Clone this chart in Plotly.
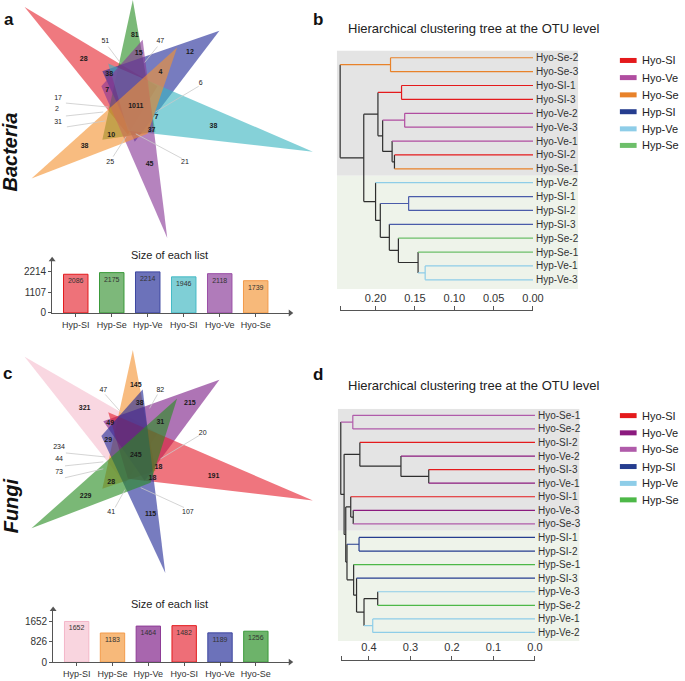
import plotly.graph_objects as go

FONT = "Liberation Sans, Arial, Helvetica, sans-serif"
W, H = 685, 681

# ------------------------------------------------------------------ data
SETS = ["Hyp-SI", "Hyp-Se", "Hyp-Ve", "Hyo-SI", "Hyo-Ve", "Hyo-Se"]
BACT_SIZES = [2086, 2175, 2214, 1946, 2118, 1739]
FUNGI_SIZES = [1652, 1183, 1464, 1482, 1189, 1256]
BACT_YTICKS = [0, 1107, 2214]
FUNGI_YTICKS = [0, 826, 1652]

BACT_REGION_COUNTS = [28, 81, 15, 12, 38, 4, 7, 1011, 7, 38, 37, 10, 38, 45]
BACT_CALLOUT_COUNTS = [51, 47, 6, 17, 2, 31, 25, 21]
FUNGI_REGION_COUNTS = [321, 145, 38, 215, 49, 31, 29, 245, 18, 191, 18, 28, 229, 115]
FUNGI_CALLOUT_COUNTS = [47, 82, 20, 234, 44, 73, 41, 107]

LEGEND_GROUPS = ["Hyo-SI", "Hyo-Ve", "Hyo-Se", "Hyp-SI", "Hyp-Ve", "Hyp-Se"]

TREE_B_LEAVES = ["Hyo-Se-2", "Hyo-Se-3", "Hyo-SI-1", "Hyo-SI-3", "Hyo-Ve-2", "Hyo-Ve-3",
                 "Hyo-Ve-1", "Hyo-SI-2", "Hyo-Se-1", "Hyp-Ve-2", "Hyp-SI-1", "Hyp-SI-2",
                 "Hyp-SI-3", "Hyp-Se-2", "Hyp-Se-1", "Hyp-Ve-1", "Hyp-Ve-3"]
# (node, child1, child2, height)
TREE_B_MERGES = [
    ("A", "Hyo-Se-2", "Hyo-Se-3", 0.181),
    ("PSI", "Hyo-SI-1", "Hyo-SI-3", 0.167),
    ("PVe", "Hyo-Ve-2", "Hyo-Ve-3", 0.163),
    ("G", "Hyo-SI-2", "Hyo-Se-1", 0.176),
    ("F", "Hyo-Ve-1", "G", 0.179),
    ("E", "PVe", "F", 0.191),
    ("C", "PSI", "E", 0.197),
    ("L", "Hyp-Ve-1", "Hyp-Ve-3", 0.137),
    ("K", "Hyp-Se-1", "L", 0.146),
    ("J", "Hyp-Se-2", "K", 0.171),
    ("I", "Hyp-SI-3", "J", 0.1825),
    ("P2", "Hyp-SI-1", "Hyp-SI-2", 0.158),
    ("Hn", "P2", "I", 0.194),
    ("D", "Hyp-Ve-2", "Hn", 0.200),
    ("B", "C", "D", 0.215),
    ("root", "A", "B", 0.245),
]
TREE_B_TICKS = [0.245, 0.20, 0.15, 0.10, 0.05, 0.00]
TREE_B_TICKTEXT = ["", "0.20", "0.15", "0.10", "0.05", "0.00"]

TREE_D_LEAVES = ["Hyo-Se-1", "Hyo-Se-2", "Hyo-SI-2", "Hyo-Ve-2", "Hyo-SI-3", "Hyo-Ve-1",
                 "Hyo-SI-1", "Hyo-Ve-3", "Hyo-Se-3", "Hyp-SI-1", "Hyp-SI-2", "Hyp-Se-1",
                 "Hyp-SI-3", "Hyp-Ve-3", "Hyp-Se-2", "Hyp-Ve-1", "Hyp-Ve-2"]
TREE_D_MERGES = [
    ("Q1", "Hyo-Se-1", "Hyo-Se-2", 0.439),
    ("Q2", "Hyo-SI-3", "Hyo-Ve-1", 0.256),
    ("Q3", "Hyo-Ve-2", "Q2", 0.323),
    ("Q4", "Hyo-SI-2", "Q3", 0.422),
    ("Q5", "Hyo-Ve-3", "Hyo-Se-3", 0.438),
    ("Q6", "Hyo-SI-1", "Q5", 0.444),
    ("P1", "Hyp-Ve-3", "Hyp-Se-2", 0.379),
    ("P2", "Hyp-Ve-1", "Hyp-Ve-2", 0.391),
    ("N1", "P1", "P2", 0.412),
    ("N2", "Hyp-SI-3", "N1", 0.430),
    ("N3", "Hyp-Se-1", "N2", 0.437),
    ("P3", "Hyp-SI-1", "Hyp-SI-2", 0.424),
    ("N4", "P3", "N3", 0.453),
    ("S", "Q6", "N4", 0.456),
    ("R", "Q4", "S", 0.460),
    ("root", "Q1", "R", 0.468),
]
TREE_D_TICKS = [0.467, 0.4, 0.3, 0.2, 0.1, 0.0]
TREE_D_TICKTEXT = ["", "0.4", "0.3", "0.2", "0.1", "0.0"]

# ------------------------------------------------------------------ styles / positions (pixels)
BACT_TRIANGLES = [
    [(25, 7), (160, 87), (130, 136)],     # Hyp-SI
    [(135, 0), (104, 141), (158, 133)],   # Hyp-Se
    [(223, 31), (104, 72), (137, 143)],   # Hyp-Ve
    [(318, 153), (110, 64), (130, 132)],  # Hyo-SI
    [(170, 240), (145, 40), (103, 87)],   # Hyo-Ve
    [(32, 180), (180, 48), (150, 135)],   # Hyo-Se
]
BACT_TRI_COLORS = ["rgba(229,38,49,0.62)", "rgba(40,142,36,0.62)", "rgba(35,44,152,0.62)",
                   "rgba(58,181,192,0.62)", "rgba(135,55,150,0.62)", "rgba(243,147,50,0.62)"]
BACT_REGION_XY = [(85, 60), (137, 36), (141, 54), (193, 53), (111, 75), (163, 73), (109, 91),
                  (138, 107), (159, 118), (217, 127), (154, 131), (113, 136), (86, 148), (152, 166)]
BACT_CALLOUT_XY = [(107, 42), (163, 42), (204, 84), (59, 99), (58, 110), (59, 123), (112, 164), (188, 164)]
BACT_CALLOUT_LINES = [((110, 47), (122, 63)), ((160, 47), (147, 63)), ((202, 87), (158, 113)),
                      ((67, 104), (110, 108)), ((67, 117), (105, 113)), ((68, 128), (107, 122)),
                      ((115, 158), (128, 138)), ((185, 160), (138, 135))]

FUNGI_TRIANGLES = [
    [(25, 360), (160, 437), (127, 488)],  # Hyp-SI
    [(135, 353), (104, 493), (158, 475)], # Hyp-Se
    [(223, 383), (105, 425), (147, 485)], # Hyp-Ve
    [(318, 505), (110, 416), (130, 483)], # Hyo-SI
    [(168, 578), (145, 393), (103, 440)], # Hyo-Ve
    [(32, 533), (180, 402), (153, 487)],  # Hyo-Se
]
FUNGI_TRI_COLORS = ["rgba(246,191,206,0.62)", "rgba(243,147,50,0.62)", "rgba(125,30,135,0.62)",
                    "rgba(229,32,46,0.62)", "rgba(35,44,152,0.62)", "rgba(40,140,34,0.62)"]
FUNGI_REGION_XY = [(86, 412), (138, 389), (142, 407), (193, 407), (112, 427), (163, 426), (110, 444),
                   (138, 459), (161, 471), (217, 480), (155, 483), (113, 487), (87, 501), (153, 519)]
FUNGI_CALLOUT_XY = [(105, 394), (163, 394), (206, 437), (60, 451), (60, 463), (60, 476), (113, 517), (191, 517)]
FUNGI_CALLOUT_LINES = [((107, 398), (123, 416)), ((160, 398), (152, 412)), ((203, 439), (163, 463)),
                       ((67, 457), (107, 461)), ((66, 470), (105, 466)), ((66, 482), (105, 473)),
                       ((117, 512), (127, 494)), ((187, 512), (143, 492))]

BACT_BAR_FILL = ["#EE7279", "#7DB87A", "#6C72BA", "#7FCFD6", "#B07BBA", "#F7B97A"]
BACT_BAR_EDGE = ["#E31A1C", "#3A9A3A", "#3D47A0", "#45BAC6", "#9A4EA6", "#F39B4A"]
FUNGI_BAR_FILL = ["#F9D5DF", "#F7B97A", "#A866AE", "#EE6E77", "#6C72BA", "#6DB36A"]
FUNGI_BAR_EDGE = ["#F4B6C8", "#F39B4A", "#8E3C96", "#E31A1C", "#3D47A0", "#3A9A3A"]

TREE_B_COLORS = {"Hyo-SI": "#E41A1C", "Hyo-Ve": "#B04DA0", "Hyo-Se": "#E8822A",
                 "Hyp-SI": "#4A5BAA", "Hyp-Ve": "#8ECDE8", "Hyp-Se": "#6DBF6A"}
TREE_D_COLORS = {"Hyo-SI": "#E41A1C", "Hyo-Ve": "#8B1A7E", "Hyo-Se": "#B05BAA",
                 "Hyp-SI": "#253D8F", "Hyp-Ve": "#8ECDE8", "Hyp-Se": "#4DB848"}
LEGEND_B_COLORS = ["#E41A1C", "#B04DA0", "#E8822A", "#253D8F", "#8ECDE8", "#6DBF6A"]
LEGEND_D_COLORS = ["#E41A1C", "#8B1A7E", "#B05BAA", "#253D8F", "#8ECDE8", "#4DB848"]
LEGEND_B_Y = [61, 78.3, 95.7, 112.7, 130, 146.7]
LEGEND_D_Y = [419.3, 436.7, 453.3, 470.7, 487.7, 504.3]


def px_x(p):
    return p / W


def px_y(p):
    return 1 - p / H


fig = go.Figure()

# ---------------------------------------------------------------- overlay pixel axis (venn, legends)
for tris, cols in ((BACT_TRIANGLES, BACT_TRI_COLORS), (FUNGI_TRIANGLES, FUNGI_TRI_COLORS)):
    for tri, col in zip(tris, cols):
        xs = [p[0] for p in tri] + [tri[0][0]]
        ys = [p[1] for p in tri] + [tri[0][1]]
        fig.add_trace(go.Scatter(x=xs, y=ys, mode="lines", fill="toself", fillcolor=col,
                                 line=dict(width=0, color=col), hoverinfo="skip",
                                 xaxis="x", yaxis="y"))

for lines in (BACT_CALLOUT_LINES, FUNGI_CALLOUT_LINES):
    xs, ys = [], []
    for (a, b) in lines:
        xs += [a[0], b[0], None]
        ys += [a[1], b[1], None]
    fig.add_trace(go.Scatter(x=xs, y=ys, mode="lines", line=dict(color="#C9C9C9", width=0.8),
                             hoverinfo="skip", xaxis="x", yaxis="y"))

for counts, xy, bold in ((BACT_REGION_COUNTS, BACT_REGION_XY, True),
                         (BACT_CALLOUT_COUNTS, BACT_CALLOUT_XY, False),
                         (FUNGI_REGION_COUNTS, FUNGI_REGION_XY, True),
                         (FUNGI_CALLOUT_COUNTS, FUNGI_CALLOUT_XY, False)):
    txt = [("<b>%d</b>" % c) if bold else str(c) for c in counts]
    fig.add_trace(go.Scatter(x=[p[0] for p in xy], y=[p[1] for p in xy], mode="text", text=txt,
                             textfont=dict(family=FONT, size=7, color="#1a1a1a"),
                             cliponaxis=False, hoverinfo="skip", xaxis="x", yaxis="y"))

# legends
for ly, cols in ((LEGEND_B_Y, LEGEND_B_COLORS), (LEGEND_D_Y, LEGEND_D_COLORS)):
    for g, y, c in zip(LEGEND_GROUPS, ly, cols):
        fig.add_trace(go.Scatter(x=[630, 647], y=[y, y], mode="lines", line=dict(color=c, width=5),
                                 hoverinfo="skip", xaxis="x", yaxis="y"))
        fig.add_annotation(x=650, y=y, xref="x", yref="y", text=g, showarrow=False,
                           xanchor="left", yanchor="middle", font=dict(family=FONT, size=11, color="#222"))

# ---------------------------------------------------------------- bar charts
def add_bars(sizes, fills, edges, xa, ya):
    n = len(sizes)
    fig.add_trace(go.Bar(x=list(range(n)), y=sizes, width=0.68,
                         marker=dict(color=fills, line=dict(color=edges, width=1)),
                         text=[str(v) for v in sizes], textposition="inside", insidetextanchor="end",
                         textangle=0, textfont=dict(family=FONT, size=7, color="#333"),
                         hoverinfo="skip", xaxis=xa, yaxis=ya))


add_bars(BACT_SIZES, BACT_BAR_FILL, BACT_BAR_EDGE, "x2", "y2")
add_bars(FUNGI_SIZES, FUNGI_BAR_FILL, FUNGI_BAR_EDGE, "x3", "y3")

BAR_X_RANGE = [-0.656, 5.96]
BACT_Y_TOP = 2872
FUNGI_Y_TOP = 2135
for xa, ya, ytop in (("x2", "y2", BACT_Y_TOP), ("x3", "y3", FUNGI_Y_TOP)):
    fig.add_trace(go.Scatter(x=[BAR_X_RANGE[0], BAR_X_RANGE[1]], y=[ytop, 0], mode="markers",
                             marker=dict(symbol=["triangle-up", "triangle-right"], size=6, color="#555"),
                             cliponaxis=False, hoverinfo="skip", xaxis=xa, yaxis=ya))

axis_common = dict(showgrid=False, zeroline=False, showline=True, linecolor="#555", linewidth=1,
                   ticks="outside", ticklen=3, tickcolor="#555",
                   tickfont=dict(family=FONT, size=9, color="#333"))
fig.update_layout(
    xaxis2=dict(domain=[px_x(53), px_x(295)], range=BAR_X_RANGE, anchor="y2",
                tickvals=list(range(6)), ticktext=SETS, **axis_common),
    yaxis2=dict(domain=[px_y(315.7), px_y(262)], range=[0, BACT_Y_TOP], anchor="x2",
                tickvals=BACT_YTICKS, **{**axis_common, "tickfont": dict(family=FONT, size=10, color="#333")}),
    xaxis3=dict(domain=[px_x(54), px_x(295)], range=BAR_X_RANGE, anchor="y3",
                tickvals=list(range(6)), ticktext=SETS, **axis_common),
    yaxis3=dict(domain=[px_y(668), px_y(615)], range=[0, FUNGI_Y_TOP], anchor="x3",
                tickvals=FUNGI_YTICKS, **{**axis_common, "tickfont": dict(family=FONT, size=10, color="#333")}),
)
for ty in (257, 609):
    fig.add_annotation(x=px_x(172), y=px_y(ty), xref="paper", yref="paper", text="Size of each list",
                       showarrow=False, xanchor="center", yanchor="middle",
                       font=dict(family=FONT, size=11, color="#222"))


# ---------------------------------------------------------------- dendrograms
def tree_lines(leaves, merges):
    pos = {n: (0.0, float(i)) for i, n in enumerate(leaves)}
    grp = {n: n.rsplit("-", 1)[0] for n in leaves}
    segs = []
    for node, a, b, h in merges:
        (xa_, ya_), (xb_, yb_) = pos[a], pos[b]
        g = grp[a] if grp[a] == grp[b] else None
        segs.append(([h, h], [ya_, yb_], g))
        segs.append(([h, xa_], [ya_, ya_], grp[a]))
        segs.append(([h, xb_], [yb_, yb_], grp[b]))
        pos[node] = (h, (ya_ + yb_) / 2)
        grp[node] = g
    return segs


def add_tree(leaves, merges, colors, xa, ya):
    by = {}
    for xs, ys, g in tree_lines(leaves, merges):
        key = g if g is not None else "_none"
        by.setdefault(key, ([], []))
        by[key][0].extend(xs + [None])
        by[key][1].extend(ys + [None])
    keys = sorted(by.keys(), key=lambda k: 0 if k == "_none" else 1)
    for k in keys:
        xs, ys = by[k]
        fig.add_trace(go.Scatter(x=xs, y=ys, mode="lines",
                                 line=dict(color=colors.get(k, "#2e2e2e"), width=1.2),
                                 hoverinfo="skip", xaxis=xa, yaxis=ya))
    for i, name in enumerate(leaves):
        fig.add_annotation(x=0, y=i, xref=xa, yref=ya, text=name, showarrow=False,
                           xanchor="left", yanchor="middle", xshift=1,
                           font=dict(family=FONT, size=10, color="#333"))


add_tree(TREE_B_LEAVES, TREE_B_MERGES, TREE_B_COLORS, "x4", "y4")
add_tree(TREE_D_LEAVES, TREE_D_MERGES, TREE_D_COLORS, "x5", "y5")

TB_XR = [0.24925, -0.0575]
TB_YR = [16.67, -0.52]
TD_XR = [0.4752, -0.1074]
TD_YR = [16.63, -0.49]
hidden = dict(visible=False, showgrid=False, zeroline=False)
fig.update_layout(
    xaxis4=dict(domain=[px_x(342.3), px_x(587.7)], range=TB_XR, anchor="y4", **hidden),
    yaxis4=dict(domain=[px_y(291.7), px_y(51)], range=TB_YR, anchor="x4", **hidden),
    xaxis5=dict(domain=[px_x(343.3), px_x(589)], range=TD_XR, anchor="y5", **hidden),
    yaxis5=dict(domain=[px_y(646.7), px_y(412.3)], range=TD_YR, anchor="x5", **hidden),
)
for xr, yr, xa, ya in ((TB_XR, TB_YR, "x4", "y4"), (TD_XR, TD_YR, "x5", "y5")):
    fig.add_shape(type="rect", xref=xa, yref=ya, x0=xr[0], x1=xr[1], y0=yr[1], y1=8.5,
                  fillcolor="#E4E4E4", line=dict(width=0), layer="below")
    fig.add_shape(type="rect", xref=xa, yref=ya, x0=xr[0], x1=xr[1], y0=8.5, y1=yr[0],
                  fillcolor="#EEF3EA", line=dict(width=0), layer="below")

# distance scale axes
scale_common = dict(side="top", showline=True, linecolor="#555", linewidth=1, ticks="outside",
                    ticklen=4, tickcolor="#555", showgrid=False, zeroline=False,
                    tickfont=dict(family=FONT, size=11, color="#333"))
fig.add_trace(go.Scatter(x=[TREE_B_TICKS[0], 0], y=[0, 0], mode="markers", marker=dict(opacity=0),
                         hoverinfo="skip", xaxis="x6", yaxis="y6"))
fig.add_trace(go.Scatter(x=[TREE_D_TICKS[0], 0], y=[0, 0], mode="markers", marker=dict(opacity=0),
                         hoverinfo="skip", xaxis="x7", yaxis="y7"))
fig.update_layout(
    xaxis6=dict(domain=[px_x(345.7), px_x(541.7)], range=[TREE_B_TICKS[0], 0], anchor="y6",
                tickvals=TREE_B_TICKS, ticktext=TREE_B_TICKTEXT, **scale_common),
    yaxis6=dict(domain=[px_y(316), px_y(314)], range=[-1, 1], anchor="x6", **hidden),
    xaxis7=dict(domain=[px_x(346.7), px_x(543.7)], range=[TREE_D_TICKS[0], 0], anchor="y7",
                tickvals=TREE_D_TICKS, ticktext=TREE_D_TICKTEXT, **scale_common),
    yaxis7=dict(domain=[px_y(668.7), px_y(666.7)], range=[-1, 1], anchor="x7", **hidden),
)

TITLE = "Hierarchical clustering tree at the OTU level"
for ty in (29, 389.3):
    fig.add_annotation(x=px_x(352), y=px_y(ty), xref="paper", yref="paper", text=TITLE,
                       showarrow=False, xanchor="left", yanchor="middle",
                       font=dict(family=FONT, size=13, color="#222"))

# panel letters and kingdom labels
for letter, (lx, ly) in zip("abcd", [(9, 20), (323, 20), (8, 377), (323, 378)]):
    fig.add_annotation(x=px_x(lx), y=px_y(ly), xref="paper", yref="paper", text="<b>%s</b>" % letter,
                       showarrow=False, xanchor="center", yanchor="middle",
                       font=dict(family=FONT, size=17, color="#111"))
for word, (lx, ly) in (("Bacteria", (10, 153)), ("Fungi", (11, 510))):
    fig.add_annotation(x=px_x(lx), y=px_y(ly), xref="paper", yref="paper",
                       text="<b><i>%s</i></b>" % word, textangle=-90, showarrow=False,
                       xanchor="center", yanchor="middle",
                       font=dict(family=FONT, size=20, color="#111"))

fig.update_layout(
    width=W, height=H, autosize=False, margin=dict(l=0, r=0, t=0, b=0, pad=0),
    paper_bgcolor="white", plot_bgcolor="rgba(0,0,0,0)", showlegend=False,
    xaxis=dict(domain=[0, 1], range=[0, W], anchor="y", **hidden),
    yaxis=dict(domain=[0, 1], range=[H, 0], anchor="x", **hidden),
)

fig.write_html("out.html", config={"displayModeBar": False},
               post_script="document.body.style.margin='0';")
